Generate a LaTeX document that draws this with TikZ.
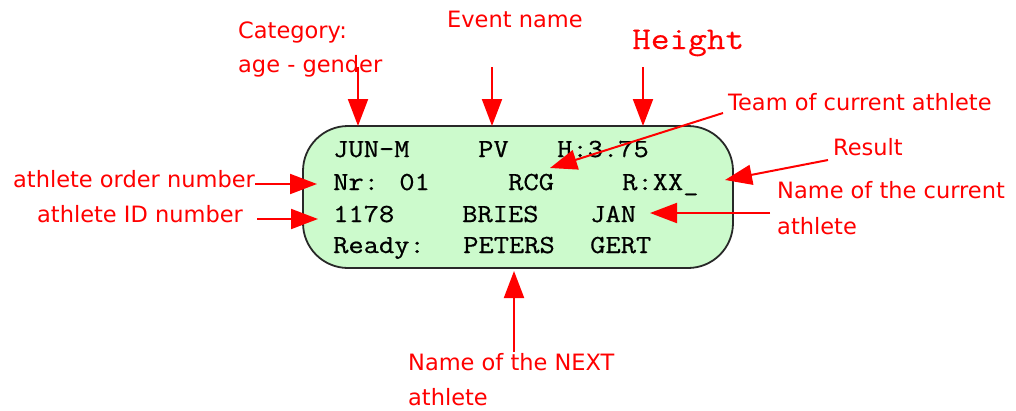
\documentclass[tikz,border=0pt]{standalone}
\usepackage{fontspec}
\setmainfont{DejaVu Sans}
\newfontfamily\monof{Latin Modern Mono}[FakeStretch=1.15, FakeBold=0.4]
\newfontfamily\monoh{Latin Modern Mono}[FakeStretch=1.14, FakeBold=0.7]
\usetikzlibrary{arrows.meta}
\definecolor{boxgreen}{RGB}{204,250,204}
\definecolor{boxedge}{RGB}{40,40,40}
\tikzset{
  lbl/.style={anchor=base west, inner sep=0pt, text=red, font=\fontsize{22.5}{26}\selectfont},
  lcd/.style={anchor=base west, inner sep=0pt, text=black, font=\monoh\fontsize{26}{28}\selectfont},
  arr/.style={draw=red, line width=2pt, -{Triangle[width=20pt,length=27pt]}},
}
\begin{document}
\begin{tikzpicture}[x=1pt,y=-1pt]
\useasboundingbox (0,0) rectangle (1016,410);
% display box
\draw[fill=boxgreen, draw=boxedge, line width=1.8pt, rounded corners=45pt] (303,126) rectangle (733,268);
% display text
\node[lcd] (l1a) at (333,157) {JUN-M};
\node[lcd] (l1b) at (478,157) {PV};
\node[lcd] (l1c) at (557,157) {H:3.75};
\node[lcd] (l2a) at (333,190) {Nr: 01};
\node[lcd] (l2b) at (508,190) {RCG};
\node[lcd] (l2c) at (622,190) {R:XX\_};
\node[lcd] (l3a) at (333,222) {1178};
\node[lcd] (l3b) at (462,222) {BRIES};
\node[lcd] (l3c) at (590,222) {JAN};
\node[lcd] (l4a) at (333,253) {Ready:};
\node[lcd] (l4b) at (463,253) {PETERS};
\node[lcd] (l4c) at (590,253) {GERT};
% labels
\node[lbl] (cat1) at (238,38) {Category:};
\node[lbl] (cat2) at (238,72) {age - gender};
\node[lbl] (evt) at (447,27) {Event name};
\node[lbl, font=\monof\fontsize{31.5}{34}\selectfont] (hgt) at (632,49) {Height};
\node[lbl] (team) at (728,110) {Team of current athlete};
\node[lbl] (res) at (833,155) {Result};
\node[lbl] (cur1) at (777,198) {Name of the current};
\node[lbl] (cur2) at (777,234) {athlete};
\node[lbl] (ord) at (13,187) {athlete order number};
\node[lbl] (aid) at (37,222) {athlete ID number};
\node[lbl] (nxt1) at (408,370) {Name of the NEXT};
\node[lbl] (nxt2) at (408,405) {athlete};
% arrow end points
\coordinate (catS) at (358,67);  \coordinate (catT) at (358,126);
\coordinate (evtS) at (492,67);  \coordinate (evtT) at (492,126);
\coordinate (hgtS) at (643,67);  \coordinate (hgtT) at (643,126);
\coordinate (teamS) at (723,113); \coordinate (teamT) at (550,168);
\coordinate (resS) at (828,160); \coordinate (resT) at (725,180);
\coordinate (curS) at (770,213); \coordinate (curT) at (650,213);
\coordinate (ordS) at (255,184); \coordinate (ordT) at (317,184);
\coordinate (aidS) at (257,219); \coordinate (aidT) at (318,219);
\coordinate (nxtS) at (514,352); \coordinate (nxtT) at (514,271);
\draw[arr] (catS) -- (catT);
\draw[arr] (evtS) -- (evtT);
\draw[arr] (hgtS) -- (hgtT);
\draw[arr] (teamS) -- (teamT);
\draw[arr] (resS) -- (resT);
\draw[arr] (curS) -- (curT);
\draw[arr] (ordS) -- (ordT);
\draw[arr] (aidS) -- (aidT);
\draw[arr] (nxtS) -- (nxtT);
\end{tikzpicture}
\end{document}
